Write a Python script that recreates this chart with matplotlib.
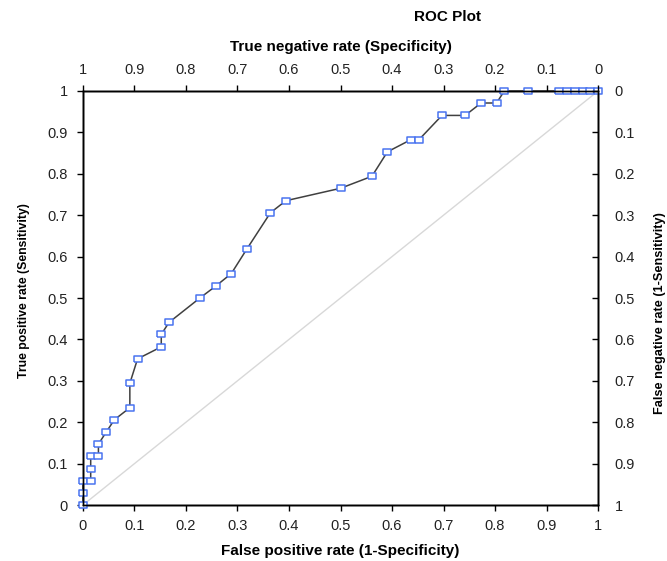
import matplotlib.pyplot as plt
import numpy as np

# ROC points (false positive rate, true positive rate)
fpr = [0.0, 0.0, 0.0, 0.015, 0.015, 0.015, 0.030, 0.030, 0.045, 0.061,
       0.091, 0.091, 0.106, 0.152, 0.152, 0.167, 0.227, 0.258, 0.288, 0.318,
       0.364, 0.394, 0.500, 0.561, 0.591, 0.636, 0.652, 0.697, 0.742, 0.773,
       0.803, 0.818, 0.864, 0.924, 0.939, 0.955, 0.970, 0.985, 1.0]
tpr = [0.0, 0.029, 0.059, 0.059, 0.088, 0.118, 0.118, 0.147, 0.176, 0.206,
       0.235, 0.294, 0.353, 0.382, 0.412, 0.441, 0.500, 0.529, 0.559, 0.618,
       0.706, 0.735, 0.765, 0.794, 0.853, 0.882, 0.882, 0.941, 0.941, 0.971,
       0.971, 1.0, 1.0, 1.0, 1.0, 1.0, 1.0, 1.0, 1.0]

ticks = [0, 0.1, 0.2, 0.3, 0.4, 0.5, 0.6, 0.7, 0.8, 0.9, 1]
tick_labels = ['0', '0.1', '0.2', '0.3', '0.4', '0.5', '0.6', '0.7', '0.8', '0.9', '1']

plt.rcParams['font.family'] = ['Liberation Sans', 'DejaVu Sans']
plt.rcParams['font.size'] = 10.5
tick_col = '#222222'

fig = plt.figure(figsize=(6.67, 5.61), dpi=100)
ax = fig.add_axes([0.1244, 0.0998, 0.7722, 0.738])

# diagonal reference line
ax.plot([0, 1], [0, 1], color='#d8d8d8', linewidth=1, zorder=1)

# rectangular marker, slightly wider than tall
rect = [(-1.35, -1), (1.35, -1), (1.35, 1), (-1.35, 1), (-1.35, -1)]
ax.plot(fpr, tpr, color='#404040', linewidth=1.1, marker=rect, markersize=6,
        markerfacecolor='white', markeredgecolor='#4a74f0', markeredgewidth=1.1,
        clip_on=False, zorder=3)

ax.set_xlim(0, 1)
ax.set_ylim(0, 1)
ax.set_xticks(ticks)
ax.set_xticklabels(tick_labels)
ax.set_yticks(ticks)
ax.set_yticklabels(tick_labels)
ax.tick_params(axis='x', direction='out', length=4, width=1, pad=6, labelcolor=tick_col)
ax.tick_params(axis='y', direction='out', length=4, width=1, pad=7, labelcolor=tick_col)
ax.set_xlabel('False positive rate (1-Specificity)', fontweight='bold', fontsize=11)
ax.xaxis.set_label_coords(0.5, -0.094)
ax.set_ylabel('True positive rate (Sensitivity)', fontweight='bold', fontsize=8.8)
ax.yaxis.set_label_coords(-0.103, 0.517)

# top axis: specificity
axt = ax.twiny()
axt.set_xlim(1, 0)
axt.set_xticks(ticks)
axt.set_xticklabels(tick_labels)
axt.tick_params(direction='out', length=4, width=1, pad=6, labelcolor=tick_col)
axt.set_xlabel('True negative rate (Specificity)', fontweight='bold', fontsize=11)
axt.xaxis.set_label_coords(0.5, 1.096)

# right axis: false negative rate
axr = ax.twinx()
axr.set_ylim(1, 0)
axr.set_yticks(ticks)
axr.set_yticklabels(tick_labels)
axr.tick_params(direction='in', length=4, width=1, pad=12, labelcolor=tick_col)
axr.set_ylabel('False negative rate (1-Sensitivity)', fontweight='bold',
               fontsize=9.2, rotation=90)
axr.yaxis.set_label_coords(1.109, 0.463)

for a in (ax, axt, axr):
    for s in a.spines.values():
        s.set_linewidth(1)

fig.text(448 / 667, 1 - 17 / 561, 'ROC Plot', fontweight='bold', fontsize=11,
         ha='center', va='center')

fig.savefig('out.png', dpi=100)
